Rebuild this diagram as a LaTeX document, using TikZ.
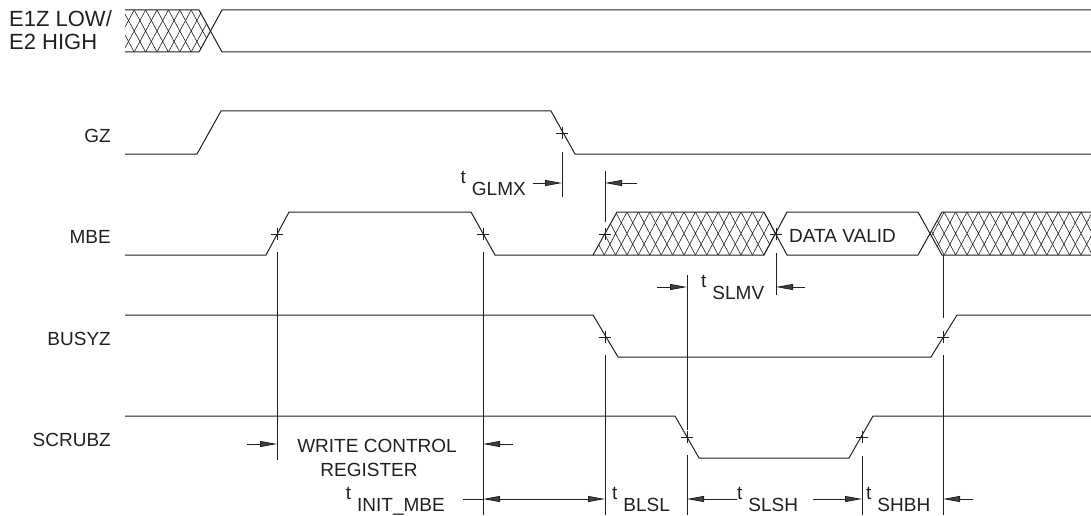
\documentclass[tikz,border=0pt]{standalone}
\usepackage{fontspec}
\setmainfont{Liberation Sans}
\usetikzlibrary{arrows.meta}
\definecolor{inkgray}{HTML}{202020}
\definecolor{tipgray}{HTML}{404040}

\newcommand{\tsub}[1]{t\hspace{6pt}\raisebox{-12pt}{#1}}

\tikzset{
  sig/.style={inkgray, line width=1pt, line join=miter},
  hatch/.style={inkgray, line width=0.6pt},
  refline/.style={inkgray, line width=0.8pt},
  dim/.style={inkgray, line width=0.8pt},
  lbl/.style={font=\fontsize{19}{23}\selectfont, inner sep=0pt, text=inkgray},
  biglbl/.style={lbl, font=\fontsize{22}{26}\selectfont},
  pics/edgemark/.style={code={\draw[refline] (-6,0) -- (6,0) (0,-6) -- (0,6);}},
}

\begin{document}
\begin{tikzpicture}[
    x=1pt, y=-1pt,
    >={Triangle[length=17pt, width=6pt, fill=tipgray]},
  ]
  \useasboundingbox (0,0) rectangle (1091,516);

  % === Signal names ===
  \node[biglbl, anchor=base west] (e1z) at (9,27) {E1Z LOW/};
  \node[biglbl, anchor=base west] (e2h) at (9,50) {E2 HIGH};
  \node[lbl, anchor=base east] (gz) at (111,142) {GZ};
  \node[lbl, anchor=base east] (mbe) at (111,243) {MBE};
  \node[lbl, anchor=base east] (busyz) at (111,345) {BUSYZ};
  \node[lbl, anchor=base east] (scrubz) at (111,446) {SCRUBZ};

  % === E1Z LOW / E2 HIGH ===
  \begin{scope}
    \clip (125,10) -- (199,10) -- (210.5,31) -- (199,52) -- (125,52) -- cycle;
    \foreach \k in {0,...,9}
      \draw[hatch] ({100+\k*11.4},10) -- ++(22.8,42)
                   ({100+\k*11.4},52) -- ++(22.8,-42);
  \end{scope}
  \draw[sig] (125,10) -- (199,10) -- (222,52) -- (1091,52);
  \draw[sig] (125,52) -- (199,52) -- (222,10) -- (1091,10);

  % === GZ ===
  \draw[sig] (125,154) -- (197,154) -- (221,111) -- (551,111) -- (575,154) -- (1091,154);

  % === MBE ===
  % don't-care before and after the valid window
  \begin{scope}
    \clip (593,255) -- (617,212) -- (764,212) -- (775.5,233.5) -- (764,255) -- cycle;
    \foreach \k in {0,...,18}
      \draw[hatch] ({570+\k*11.4},212) -- ++(22.8,43)
                   ({570+\k*11.4},255) -- ++(22.8,-43);
  \end{scope}
  \begin{scope}
    \clip (930,233.5) -- (942,212) -- (1091,212) -- (1091,255) -- (942,255) -- cycle;
    \foreach \k in {0,...,16}
      \draw[hatch] ({910+\k*11.4},212) -- ++(22.8,43)
                   ({910+\k*11.4},255) -- ++(22.8,-43);
  \end{scope}
  \draw[sig] (125,255) -- (266,255) -- (289,212) -- (471,212) -- (495,255) -- (593,255)
    -- (617,212) -- (764,212) -- (787,255) -- (918,255) -- (942,212) -- (1091,212);
  \draw[sig] (593,255) -- (764,255) -- (787,212) -- (918,212) -- (942,255) -- (1091,255);
  \node[lbl, anchor=base west] (dvalid) at (789,242) {DATA VALID};

  % === BUSYZ ===
  \draw[sig] (125,315) -- (593,315) -- (618,357) -- (931,357) -- (957,315) -- (1091,315);

  % === SCRUBZ ===
  \draw[sig] (125,416) -- (675,416) -- (699,458) -- (849,458) -- (873,416) -- (1091,416);

  % === Edge marks ===
  \foreach \p in {(562,133), (277,234), (483,234), (605,234), (776,234),
                  (605,337), (943,337), (687,437), (862,437)}
    \pic at \p {edgemark};

  % === Reference lines ===
  \draw[refline] (562,152) -- (562,197);
  \draw[refline] (605,171) -- (605,222);
  \draw[refline] (277,252) -- (277,460);
  \draw[refline] (483,252) -- (483,515);
  \draw[refline] (605,355) -- (605,515);
  \draw[refline] (687,275) -- (687,430) (687,455) -- (687,515);
  \draw[refline] (776,253) -- (776,295);
  \draw[refline] (862,456) -- (862,515);
  \draw[refline] (943,255) -- (943,318) (943,355) -- (943,515);

  % === Timing parameters ===
  % t_GLMX
  \node[lbl, anchor=base east] (tglmx) at (526,183) {\tsub{GLMX}};
  \draw[dim, ->] (533,183) -- (562,183);
  \draw[dim, <-] (605,183) -- (637,183);

  % t_SLMV
  \node[lbl, anchor=base west] (tslmv) at (701,287) {\tsub{SLMV}};
  \draw[dim, ->] (657,287) -- (687,287);
  \draw[dim, <-] (776,287) -- (805,287);

  % write control register window
  \node[lbl, anchor=base] (wcr) at (377,452) {WRITE CONTROL};
  \node[lbl, anchor=base] (wcrreg) at (369,476) {REGISTER};
  \draw[dim, ->] (247,444) -- (277,444);
  \draw[dim, <-] (483,444) -- (513,444);

  % bottom row
  \node[lbl, anchor=base east] (tinit) at (445,499) {\tsub{INIT\_MBE}};
  \draw[dim] (463,499) -- (483,499);
  \draw[dim, <->] (483,499) -- (605,499);
  \node[lbl, anchor=base west] (tblsl) at (612,499) {\tsub{BLSL}};
  \node[lbl, anchor=base west] (tslsh) at (737,499) {\tsub{SLSH}};
  \draw[dim, <-] (687,499) -- (737,499);
  \draw[dim, ->] (813,499) -- (862,499);
  \node[lbl, anchor=base west] (tshbh) at (866,499) {\tsub{SHBH}};
  \draw[dim, <-] (943,499) -- (973,499);

\end{tikzpicture}
\end{document}
